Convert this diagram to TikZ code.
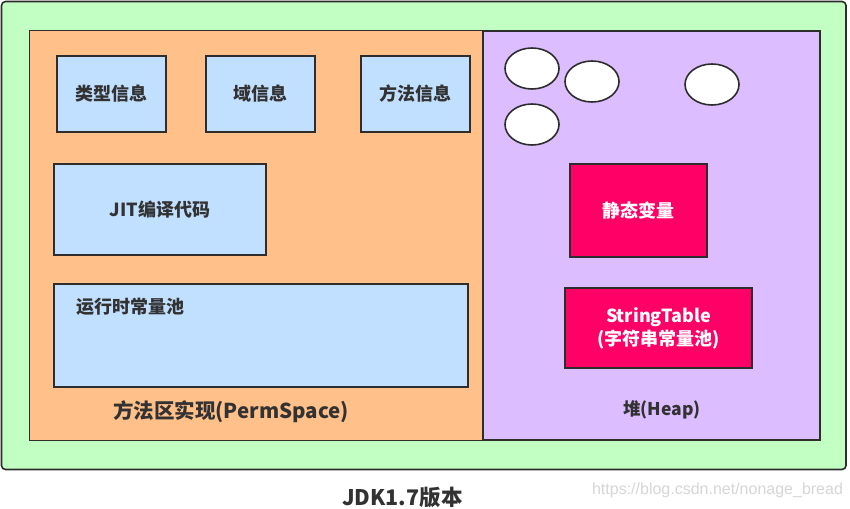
\documentclass[tikz,border=0pt]{standalone}
\usepackage{fontspec}
\setmainfont{Noto Sans CJK SC}
\newfontfamily\markfont{Liberation Sans}
\usepackage{tikz}
\usetikzlibrary{positioning, shapes.geometric}
\definecolor{colorGreen}{RGB}{194,255,194}
\definecolor{colorOrange}{RGB}{255,192,138}
\definecolor{colorPurple}{RGB}{220,189,255}
\definecolor{colorBlue}{RGB}{193,223,255}
\definecolor{colorRose}{RGB}{255,0,102}
\definecolor{colorLine}{RGB}{45,45,45}
\definecolor{colorText}{RGB}{50,50,50}
\definecolor{colorMark}{RGB}{214,214,214}
\tikzstyle{area} =[draw=colorLine, line width=1.6pt]
\tikzstyle{infobox} =[draw=colorLine, line width=1.6pt, fill=colorBlue, inner sep=0pt, text=colorText, font=\bfseries\fontsize{18}{21}\selectfont]
\tikzstyle{heapbox} =[draw=colorLine, line width=1.6pt, fill=colorRose, inner sep=0pt, align=center, text=white, font=\bfseries\fontsize{18}{23}\selectfont]
\tikzstyle{objcircle} =[ellipse, draw=colorLine, line width=1.6pt, fill=white, minimum width=54pt, minimum height=41pt, inner sep=0pt]
\tikzstyle{caption} =[align=center, text=colorText, font=\bfseries\fontsize{20.5}{24}\selectfont]

\begin{document}
\begin{tikzpicture}[x=1pt, y=-1pt]
        \useasboundingbox[fill=white] (0,0) rectangle (850,508);

        %% Filled regions
        \draw[area, fill=colorGreen, rounded corners=4pt] (1.5,1.5) rectangle (846,469.5);
        \draw[area, fill=colorOrange] (29.5,30.5) rectangle (483,440.5);
        \draw[area, fill=colorPurple] (483,31) rectangle (820,440);

        % Method area
        \node[infobox, minimum width=109pt, minimum height=76pt] (typeinfo) at (111.5,94) {类型信息};
        \node[infobox, minimum width=109pt, minimum height=76pt] (fieldinfo) at (260.5,94) {域信息};
        \node[infobox, minimum width=109pt, minimum height=76pt] (methodinfo) at (415.5,94) {方法信息};
        \node[infobox, minimum width=212pt, minimum height=91pt] (jitcode) at (160,209.5) {JIT编译代码};
        \node[infobox, minimum width=414pt, minimum height=103pt] (rtpool) at (261,335.5) {};
        \node[anchor=west, inner sep=0pt, text=colorText, font=\bfseries\fontsize{18}{21}\selectfont] (rtlabel) at ([xshift=23pt, yshift=-24pt]rtpool.north west) {运行时常量池};
        \node[caption] (permlabel) at (231,412) {方法区实现(PermSpace)};

        % Heap
        \node[objcircle] (obj1) at (532,68.5) {};
        \node[objcircle] (obj2) at (592,81.5) {};
        \node[objcircle] (obj3) at (712,84.5) {};
        \node[objcircle] (obj4) at (532,124.5) {};
        \node[heapbox, minimum width=137pt, minimum height=93pt] (staticvar) at (638.5,210.5) {静态变量};
        \node[heapbox, minimum width=187pt, minimum height=80pt] (stringtable) at (658.5,328) {StringTable\\(字符串常量池)};
        \node[caption, font=\bfseries\fontsize{17.5}{20}\selectfont] (heaplabel) at (662,410) {堆(Heap)};

        % Title
        \node[caption, font=\bfseries\fontsize{21.5}{24}\selectfont] (title) at (402.5,497) {JDK1.7版本};
        \node[text=colorMark, font=\markfont\fontsize{16}{18}\selectfont] (mark) at (717.5,490) {https://blog.csdn.net/nonage\_bread};

    \end{tikzpicture}
\end{document}
